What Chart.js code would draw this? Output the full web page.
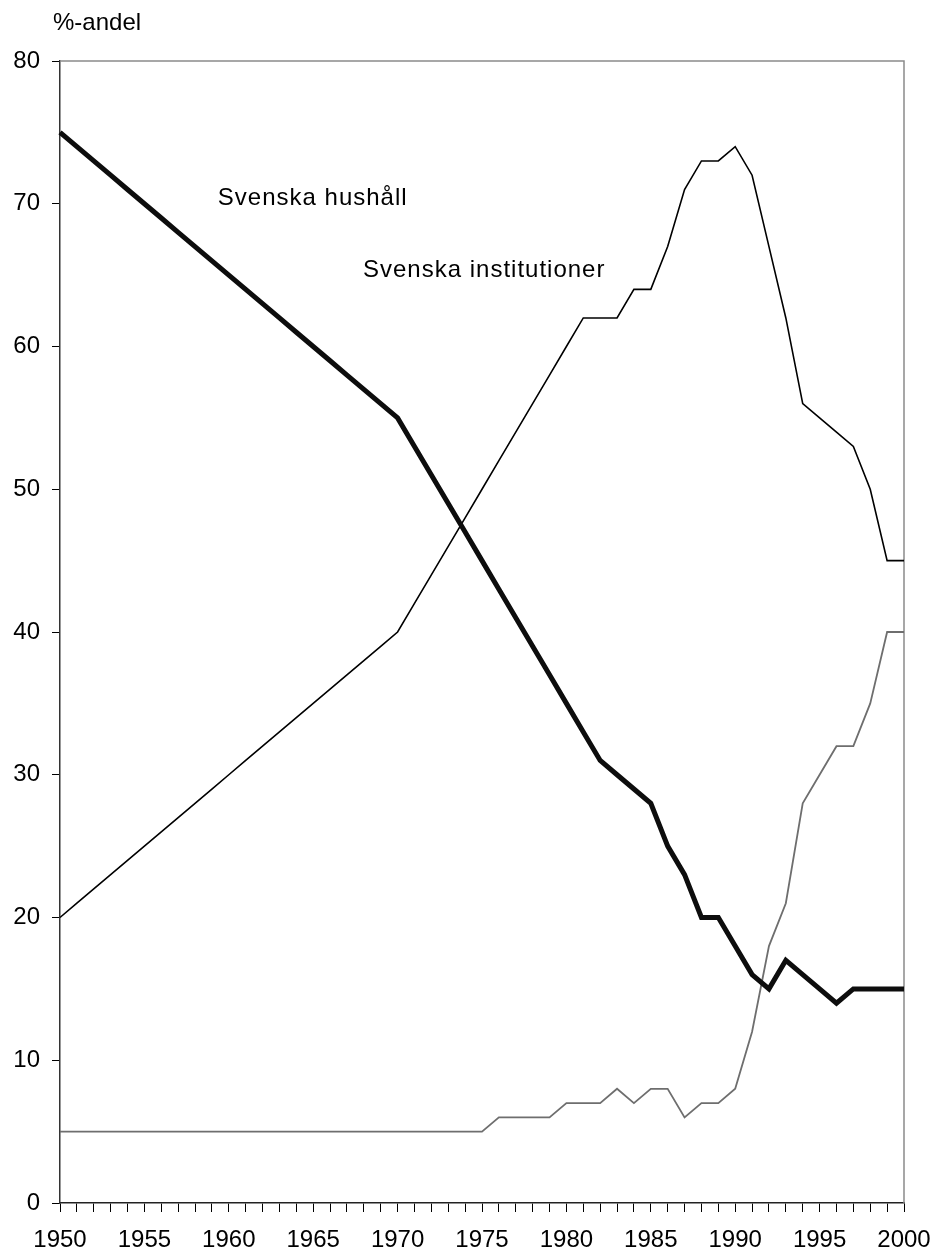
<!DOCTYPE html>
<html>
<head>
<meta charset="utf-8">
<script src="https://cdn.jsdelivr.net/npm/chart.js@4"></script>
<style>
html,body{margin:0;padding:0;background:#fff;}
#wrap{width:938px;height:1257px;}
</style>
</head>
<body>
<div id="wrap"><canvas id="c" width="938" height="1257"></canvas></div>
<script>
const years = [1950,1951,1952,1953,1954,1955,1956,1957,1958,1959,1960,1961,1962,1963,1964,1965,1966,1967,1968,1969,1970,1971,1972,1973,1974,1975,1976,1977,1978,1979,1980,1981,1982,1983,1984,1985,1986,1987,1988,1989,1990,1991,1992,1993,1994,1995,1996,1997,1998,1999,2000];
const hushall = [75,74,73,72,71,70,69,68,67,66,65,64,63,62,61,60,59,58,57,56,55,53,51,49,47,45,43,41,39,37,35,33,31,30,29,28,25,23,20,20,18,16,15,17,16,15,14,15,15,15,15];
const institutioner = [20,21,22,23,24,25,26,27,28,29,30,31,32,33,34,35,36,37,38,39,40,42,44,46,48,50,52,54,56,58,60,62,62,62,64,64,67,71,73,73,74,72,67,62,56,55,54,53,50,45,45];
const utlandet = [5,5,5,5,5,5,5,5,5,5,5,5,5,5,5,5,5,5,5,5,5,5,5,5,5,5,6,6,6,6,7,7,7,8,7,8,8,6,7,7,8,12,18,21,28,30,32,32,35,40,40];
const yTicks = [0,10,20,30,40,50,60,70,80];
const yTitle = '%-andel';
const annotations = [
  {text:'Svenska hushåll', year:1959.35, value:70.4},
  {text:'Svenska institutioner', year:1967.95, value:65.35}
];

const FONT = '"Liberation Sans", Arial, sans-serif';

const deco = {
  id:'deco',
  beforeDatasetsDraw(chart){
    const {ctx, chartArea:a} = chart;
    ctx.save();
    ctx.strokeStyle = '#8a8a8a';
    ctx.lineWidth = 1.5;
    ctx.beginPath();
    ctx.moveTo(a.left, a.top);
    ctx.lineTo(a.right, a.top);
    ctx.lineTo(a.right, a.bottom);
    ctx.stroke();
    ctx.restore();
  },
  afterDraw(chart){
    const {ctx, chartArea:a, scales} = chart;
    ctx.save();
    ctx.fillStyle = '#000';
    ctx.font = '24px ' + FONT;
    ctx.textBaseline = 'middle';
    ctx.textAlign = 'left';
    ctx.fillText(yTitle, a.left - 7, 23);
    try { ctx.letterSpacing = '1px'; } catch(e) {}
    const xs = scales.x;
    annotations.forEach(an => {
      const idx = an.year - years[0];
      const px = xs.getPixelForValue(0) + (xs.getPixelForValue(1) - xs.getPixelForValue(0)) * idx;
      const py = scales.y.getPixelForValue(an.value);
      ctx.fillText(an.text, px, py);
    });
    ctx.restore();
  }
};

new Chart(document.getElementById('c'), {
  type:'line',
  data:{
    labels: years,
    datasets:[
      {label:'Svenska hushåll', data:hushall, borderColor:'#0d0d0d', borderWidth:5, pointRadius:0, tension:0, fill:false},
      {label:'Svenska institutioner', data:institutioner, borderColor:'#000', borderWidth:1.6, pointRadius:0, tension:0, fill:false},
      {label:'Utlandet', data:utlandet, borderColor:'#6e6e6e', borderWidth:1.8, pointRadius:0, tension:0, fill:false}
    ]
  },
  options:{
    responsive:false,
    devicePixelRatio:1,
    animation:false,
    layout:{padding:{top:61,right:34,left:0,bottom:0}},
    plugins:{legend:{display:false}, tooltip:{enabled:false}},
    scales:{
      x:{
        type:'category',
        offset:false,
        grid:{drawOnChartArea:false, drawTicks:true, tickLength:9, color:'#000', tickColor:'#000', lineWidth:1},
        border:{display:true, color:'#222', width:1.5},
        ticks:{
          autoSkip:false, maxRotation:0, minRotation:0, padding:14, color:'#000',
          font:{family:FONT, size:24},
          callback:(v, i) => (years[i] % 5 === 0 ? String(years[i]) : '')
        },
        afterFit(s){ s.height = 54; s.paddingLeft = 0; s.paddingRight = 0; }
      },
      y:{
        type:'linear',
        min:0, max:80,
        afterBuildTicks(s){ s.ticks = yTicks.map(v => ({value:v})); },
        grid:{drawOnChartArea:false, drawTicks:true, tickLength:8, tickColor:'#000', lineWidth:1},
        border:{display:true, color:'#333', width:1.5},
        ticks:{padding:12, color:'#000', font:{family:FONT, size:24}},
        afterFit(s){ s.width = 60; s.paddingTop = 0; s.paddingBottom = 0; }
      }
    }
  },
  plugins:[deco]
});
</script>
</body>
</html>
